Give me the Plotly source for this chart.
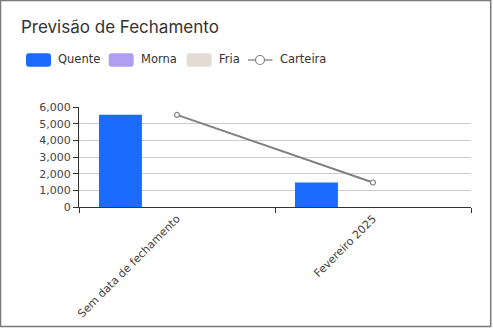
import plotly.graph_objects as go

# ---- data ----
categories = ["Sem data de fechamento", "Fevereiro 2025"]
quente = [5530, 1470]
morna = [0, 0]
fria = [0, 0]
carteira = [5530, 1470]
y_ticks = [0, 1000, 2000, 3000, 4000, 5000, 6000]

series_names = ["Quente", "Morna", "Fria", "Carteira"]
colors = {"Quente": "#1b6bff", "Morna": "#b09ef2", "Fria": "#e5dbd5", "Carteira": "#808080"}

W, H = 493, 328
ML, MR, MT, MB = 79, 22, 107, 121
PW, PH = W - ML - MR, H - MT - MB


def px(x):
    return (x - ML) / PW


def py(y):
    return 1 - (y - MT) / PH


fig = go.Figure()
bar_w = 0.219
offsets = [-0.398, -0.110, 0.178]
for name, vals, off in zip(series_names[:3], [quente, morna, fria], offsets):
    fig.add_trace(go.Bar(x=categories, y=vals, name=name, marker_color=colors[name],
                         marker_line_width=0, width=bar_w, offset=off, showlegend=False))

fig.add_trace(go.Scatter(x=categories, y=carteira, name="Carteira", mode="lines+markers",
                         line=dict(color=colors["Carteira"], width=2),
                         marker=dict(symbol="circle", size=5, color="white",
                                     line=dict(color=colors["Carteira"], width=1.2)),
                         showlegend=False))

shapes = []
annotations = []

# outer frame
shapes.append(dict(type="rect", xref="paper", yref="paper",
                   x0=px(0.5), x1=px(490.7), y0=py(0.5), y1=py(326.6),
                   line=dict(color="#7a7a7a", width=1.5), fillcolor="rgba(0,0,0,0)", layer="above"))


def rounded_rect(x0, y0, x1, y1, r):
    pts = (f"M{px(x0 + r)},{py(y0)} L{px(x1 - r)},{py(y0)} Q{px(x1)},{py(y0)} {px(x1)},{py(y0 + r)} "
           f"L{px(x1)},{py(y1 - r)} Q{px(x1)},{py(y1)} {px(x1 - r)},{py(y1)} "
           f"L{px(x0 + r)},{py(y1)} Q{px(x0)},{py(y1)} {px(x0)},{py(y1 - r)} "
           f"L{px(x0)},{py(y0 + r)} Q{px(x0)},{py(y0)} {px(x0 + r)},{py(y0)} Z")
    return pts


legend_font = dict(family="DejaVu Sans", size=11.5, color="#333333")
key_x = [26, 108.7, 186.7]
text_x = [56, 138.5, 216.5]
ly0, ly1, lyc = 53.3, 66.7, 59.5
for name, kx, tx in zip(series_names[:3], key_x, text_x):
    shapes.append(dict(type="path", xref="paper", yref="paper",
                       path=rounded_rect(kx, ly0, kx + 25, ly1, 3),
                       fillcolor=colors[name], line=dict(width=0)))
    annotations.append(dict(text=name, xref="paper", yref="paper", x=px(tx), y=py(lyc),
                            xanchor="left", yanchor="middle", showarrow=False, font=legend_font))

# Carteira legend key
shapes.append(dict(type="line", xref="paper", yref="paper", x0=px(248), x1=px(272.5),
                   y0=py(60), y1=py(60), line=dict(color=colors["Carteira"], width=1.3)))
shapes.append(dict(type="circle", xref="paper", yref="paper", x0=px(255.5), x1=px(264.5),
                   y0=py(60 - 4.5), y1=py(60 + 4.5), fillcolor="white",
                   line=dict(color=colors["Carteira"], width=1.2)))
annotations.append(dict(text="Carteira", xref="paper", yref="paper", x=px(277.5), y=py(lyc),
                        xanchor="left", yanchor="middle", showarrow=False, font=legend_font))

fig.update_layout(
    width=W, height=H,
    margin=dict(l=ML, r=MR, t=MT, b=MB, autoexpand=False),
    paper_bgcolor="white", plot_bgcolor="white",
    barmode="overlay",
    showlegend=False,
    title=dict(text="Previsão de Fechamento", xref="container", yref="container",
               x=21 / W, y=1 - 27 / H, xanchor="left", yanchor="middle",
               font=dict(family="Inter", size=17, color="#333333")),
    shapes=shapes,
    annotations=annotations,
    xaxis=dict(type="category", range=[-0.5, 1.5], tickson="boundaries", ticks="outside",
               ticklen=5, tickcolor="#333333", showline=True, linecolor="#333333", linewidth=1,
               showgrid=False, tickangle=-45, zeroline=False, automargin=False,
               tickfont=dict(family="DejaVu Sans", size=11, color="#444444")),
    yaxis=dict(range=[0, 6000], tickvals=y_ticks, tickformat=",d", ticks="outside", ticklen=5,
               tickcolor="#333333", showline=True, linecolor="#333333", linewidth=1,
               showgrid=True, gridcolor="#cccccc", gridwidth=1, zeroline=False, automargin=False,
               tickfont=dict(family="DejaVu Sans", size=11, color="#444444")),
)

fig.write_html("out.html")
